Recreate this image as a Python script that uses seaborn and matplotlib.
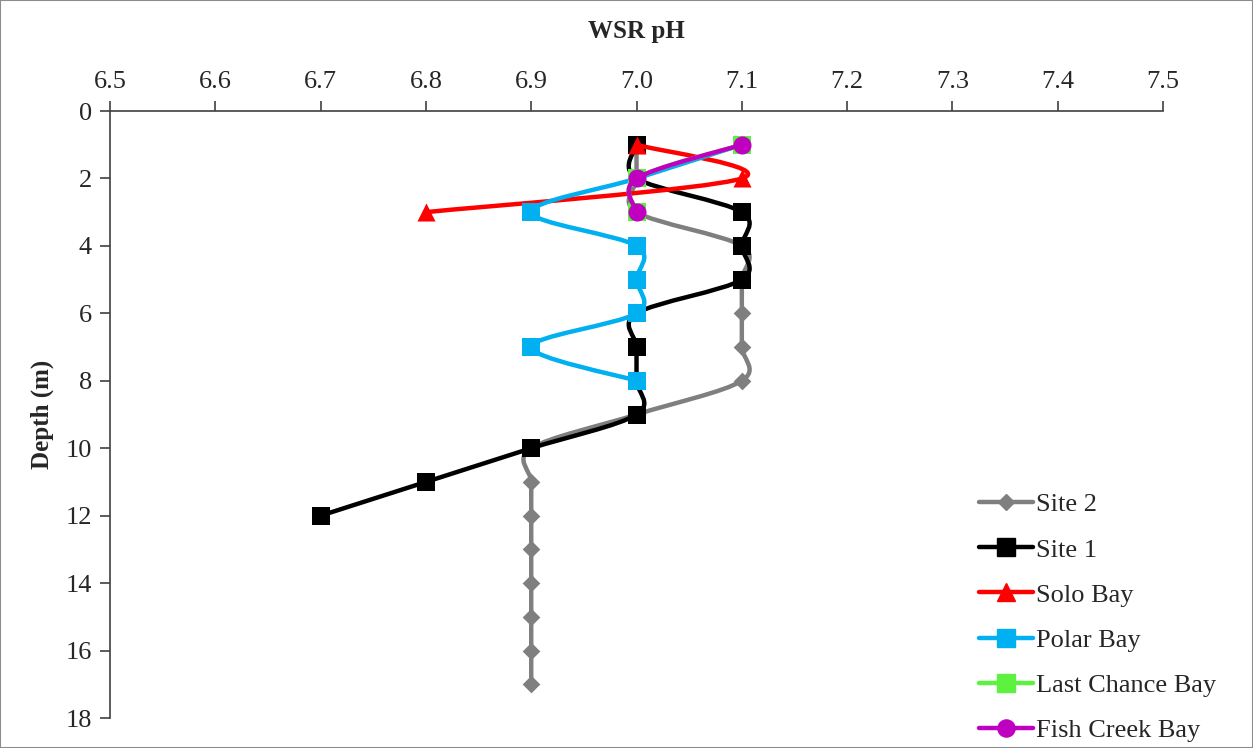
import numpy as np
import matplotlib
matplotlib.use("Agg")
import matplotlib.pyplot as plt
from matplotlib.path import Path
from matplotlib.patches import PathPatch, Rectangle
from matplotlib.lines import Line2D
import seaborn as sns

# depth (m) and pH for each site
site2_depth = [1, 2, 3, 4, 5, 6, 7, 8, 9, 10, 11, 12, 13, 14, 15, 16, 17]
site2_ph = [7.0, 7.0, 7.0, 7.1, 7.1, 7.1, 7.1, 7.1, 7.0, 6.9, 6.9, 6.9, 6.9, 6.9, 6.9, 6.9, 6.9]

site1_depth = [1, 2, 3, 4, 5, 6, 7, 8, 9, 10, 11, 12]
site1_ph = [7.0, 7.0, 7.1, 7.1, 7.1, 7.0, 7.0, 7.0, 7.0, 6.9, 6.8, 6.7]

solo_depth = [1, 2, 3]
solo_ph = [7.0, 7.1, 6.8]

polar_depth = [1, 2, 3, 4, 5, 6, 7, 8]
polar_ph = [7.1, 7.0, 6.9, 7.0, 7.0, 7.0, 6.9, 7.0]

lastchance_depth = [1, 2, 3]
lastchance_ph = [7.1, 7.0, 7.0]

fishcreek_depth = [1, 2, 3]
fishcreek_ph = [7.1, 7.0, 7.0]

x_ticks = [6.5, 6.6, 6.7, 6.8, 6.9, 7.0, 7.1, 7.2, 7.3, 7.4, 7.5]
y_ticks = [0, 2, 4, 6, 8, 10, 12, 14, 16, 18]

series = [
    ("Site 2", site2_ph, site2_depth, "#7F7F7F", "D", 9),
    ("Site 1", site1_ph, site1_depth, "black", "s", 13),
    ("Solo Bay", solo_ph, solo_depth, "#FF0000", "^", 13),
    ("Polar Bay", polar_ph, polar_depth, "#00B0F0", "s", 13),
    ("Last Chance Bay", lastchance_ph, lastchance_depth, "#5CF23F", "s", 13),
    ("Fish Creek Bay", fishcreek_ph, fishcreek_depth, "#C000C0", "o", 13),
]


def smooth_path(x, y):
    # excel-style smoothed line: cubic bezier through the points
    p = np.column_stack([x, y]).astype(float)
    n = len(p)
    verts = [p[0]]
    codes = [Path.MOVETO]
    for i in range(n - 1):
        p0 = p[max(i - 1, 0)]
        p1 = p[i]
        p2 = p[i + 1]
        p3 = p[min(i + 2, n - 1)]
        c1 = p1 + (p2 - p0) / 6.0
        c2 = p2 - (p3 - p1) / 6.0
        verts += [c1, c2, p2]
        codes += [Path.CURVE4] * 3
    return Path(verts, codes)


sns.set_theme(style="white")
plt.rcParams["font.family"] = ["Liberation Serif", "DejaVu Serif"]

fig = plt.figure(figsize=(12.53, 7.48), dpi=100)
ax = fig.add_axes([0.0878, 0.0401, 0.8404, 0.8115])

handles = []
for i, (name, ph, depth, color, marker, ms) in enumerate(series):
    patch = PathPatch(smooth_path(ph, depth), facecolor="none", edgecolor=color,
                      lw=3.2, capstyle="round", joinstyle="round", zorder=2 + 2 * i)
    ax.add_patch(patch)
    sns.scatterplot(x=ph, y=depth, ax=ax, color=color, marker=marker,
                    s=ms ** 2, linewidth=0, zorder=3 + 2 * i, legend=False)
    handles.append(Line2D([], [], color=color, lw=3.2, marker=marker,
                          markersize=ms * 0.95, solid_capstyle="round", label=name))

ax.set_xlim(6.5, 7.5)
ax.set_ylim(18, 0)
ax.set_xticks(x_ticks)
ax.set_xticklabels([f"{t:.1f}" for t in x_ticks])
ax.set_yticks(y_ticks)
ax.xaxis.tick_top()
ax.xaxis.set_label_position("top")
ax.tick_params(axis="both", labelsize=19, length=7, width=1.2, color="#404040",
               direction="out", pad=6)
ax.tick_params(axis="x", bottom=False, top=True)
ax.tick_params(axis="y", left=True, right=False)

for side in ["right", "bottom"]:
    ax.spines[side].set_visible(False)
for side in ["top", "left"]:
    ax.spines[side].set_color("#404040")
    ax.spines[side].set_linewidth(1.2)

ax.set_xlabel("WSR pH", fontsize=18, fontweight="bold", labelpad=24)
ax.set_ylabel("Depth (m)", fontsize=18, fontweight="bold", labelpad=8)

fig.legend(handles=handles, loc="upper left", bbox_to_anchor=(0.773, 0.355),
           frameon=False, fontsize=19, handlelength=2.05, handletextpad=0.12,
           labelspacing=0.82, borderaxespad=0)

fig.patches.append(Rectangle((0, 0), 1, 1, transform=fig.transFigure, fill=False,
                             edgecolor="#8C8C8C", lw=1.5))

fig.savefig("out.png", dpi=100)
